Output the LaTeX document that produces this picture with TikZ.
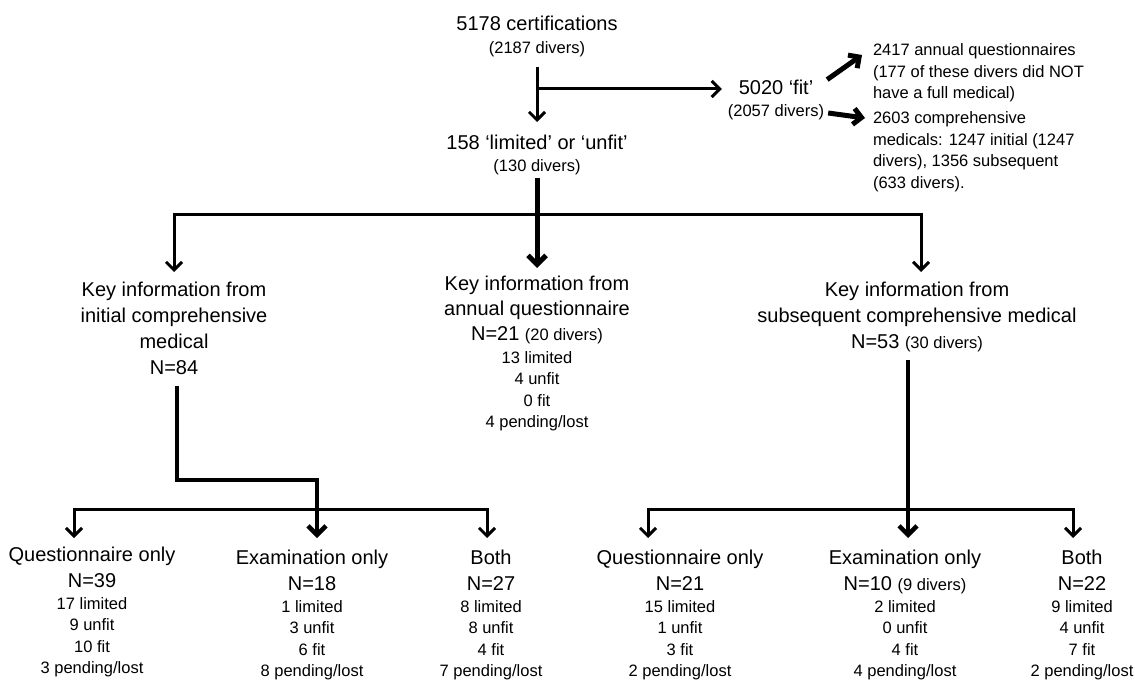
\documentclass[tikz,border=0pt]{standalone}
\usepackage{fontspec}
\setmainfont{Liberation Sans}
\usetikzlibrary{arrows.meta}
\newcommand\fbig{\fontsize{20pt}{26pt}\selectfont}
\newcommand\fsmall{\fontsize{16.5pt}{21.5pt}\selectfont}
\newcommand\blk[6]{#1\\[4.5pt]#2\\[0.5pt]\fsmall #3\\\fsmall #4\\\fsmall #5\\\fsmall #6}
\begin{document}
\begin{tikzpicture}[x=1pt,y=-1pt,
  txt/.style={inner sep=0pt, outer sep=0pt, align=center, anchor=north, font=\fbig},
  rtxt/.style={inner sep=0pt, outer sep=0pt, align=left, anchor=north west, font=\fsmall},
  btm/.style={txt, font=\fontsize{20pt}{21.5pt}\selectfont},
  ln/.style={line width=3pt},
  arr/.style={line width=3pt, -{Straight Barb[length=8pt,width=16pt]}},
  arrT/.style={line width=4.5pt, -{Straight Barb[length=9pt,width=18pt]}},
  fat/.style={line width=5pt, -{Straight Barb[length=8pt,width=16pt]}}]
\useasboundingbox[fill=white] (0,0) rectangle (1135,682);

% text blocks
\node[txt] (cert) at (537,15.6) {5178 certifications\\[-3pt]\fsmall (2187 divers)};
\node[txt] (fit) at (776,79.6) {5020 ‘fit’\\[-4pt]\fsmall (2057 divers)};
\node[txt] (lim) at (537,134.6) {158 ‘limited’ or ‘unfit’\\[-4pt]\fsmall (130 divers)};
\node[rtxt] (aq) at (873,44) {2417 annual questionnaires\\(177 of these divers did NOT\\have a full medical)};
\node[rtxt] (cm) at (873,112) {2603 comprehensive\\medicals: 1247 initial (1247\\divers), 1356 subsequent\\(633 divers).};

\node[txt] (ini) at (174,281.6) {Key information from\\initial comprehensive\\medical\\N=84};
\node[txt, font=\fontsize{20pt}{25pt}\selectfont] (ann) at (537,275.6)
  {Key information from\\annual questionnaire\\N=21 {\fsmall (20 divers)}\\[-2pt]\fsmall 13 limited\\[-3.5pt]\fsmall 4 unfit\\[-3.5pt]\fsmall 0 fit\\[-3.5pt]\fsmall 4 pending/lost};
\node[txt] (sub) at (917,281.6) {Key information from\\subsequent comprehensive medical\\N=53 {\fsmall (30 divers)}};

\node[btm] (qo1) at (92,547) {\blk{Questionnaire only}{N=39}{17 limited}{9 unfit}{10 fit}{3 pending/lost}};
\node[btm] (eo1) at (312,549.6) {\blk{Examination only}{N=18}{1 limited}{3 unfit}{6 fit}{8 pending/lost}};
\node[btm] (b1) at (491,549.6) {\blk{Both}{N=27}{8 limited}{8 unfit}{4 fit}{7 pending/lost}};
\node[btm] (qo2) at (680,549.6) {\blk{Questionnaire only}{N=21}{15 limited}{1 unfit}{3 fit}{2 pending/lost}};
\node[btm] (eo2) at (905,549.6) {\blk{Examination only}{N=10 {\fsmall (9 divers)}}{2 limited}{0 unfit}{4 fit}{4 pending/lost}};
\node[btm] (b2) at (1082,549.6) {\blk{Both}{N=22}{9 limited}{4 unfit}{7 fit}{2 pending/lost}};

% junctions
\coordinate (j1) at (537,89);
\coordinate (b0) at (537,214);
\coordinate (c1) at (317,509);
\coordinate (c2) at (908,509);

% connectors
\draw[arr, shorten <=10.5pt, shorten >=12.6pt] (cert.south) -- (lim.north);
\draw[arr, shorten >=6pt] (j1) -- (j1 -| fit.west);
\draw[fat] ([xshift=3pt]fit.north east) -- ([shift={(-11pt,-11pt)}]aq.north west);
\draw[fat] ([shift={(4pt,6.5pt)}]fit.south east) -- ([shift={(-8pt,-6pt)}]cm.north west);

\draw[arr, shorten >=9.6pt] (b0) -| (ini.north);
\draw[arr, shorten >=9.6pt] (b0) -| ([xshift=4pt]sub.north);
\draw[arrT, line width=5pt, shorten <=3.5pt, shorten >=7.6pt] (lim.south) -- (ann.north);

\draw[line width=4pt] ([shift={(3pt,-12pt)}]ini.south) |- ([yshift=29pt]c1) -- (c1);
\draw[arr, shorten >=9pt] (c1) -| ([xshift=-18pt]qo1.north);
\draw[arr, shorten >=11.6pt] (c1) -| ([xshift=-4pt]b1.north);
\draw[arrT, shorten >=11.6pt] (c1) -- (c1 |- eo1.north);

\draw[arrT, shorten <=8pt, shorten >=11.6pt] (c2 |- sub.south) -- (c2 |- eo2.north);
\draw[arr, shorten >=11.6pt] (c2) -| ([xshift=-32pt]qo2.north);
\draw[arr, shorten >=11.6pt] (c2) -| ([xshift=-9pt]b2.north);
\end{tikzpicture}
\end{document}
